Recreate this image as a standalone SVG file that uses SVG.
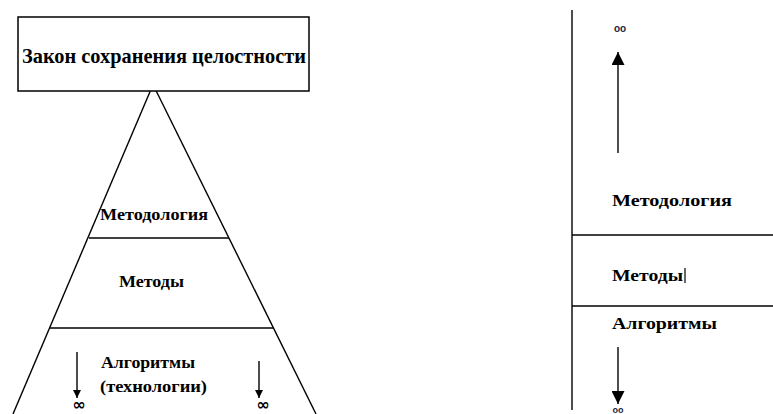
<svg xmlns="http://www.w3.org/2000/svg" width="773" height="414" viewBox="0 0 773 414">
<defs>
<style>
.ln{stroke:#000;stroke-width:1.4;fill:none}
.t{font-family:"Liberation Serif","Times New Roman",serif;font-weight:bold;fill:#000}
.inf{font-family:"Liberation Sans",Arial,sans-serif;font-weight:bold;fill:#1c2540}
.big{font-family:"DejaVu Sans",sans-serif;font-weight:bold;fill:#000}
</style>
<marker id="ah" viewBox="0 0 10 10" refX="10" refY="5" markerWidth="8" markerHeight="8" markerUnits="userSpaceOnUse" orient="auto">
<path d="M0,0 L10,5 L0,10 Z" fill="#000"/>
</marker>
<marker id="ahb" viewBox="0 0 10 10" refX="10" refY="5" markerWidth="13" markerHeight="13" markerUnits="userSpaceOnUse" orient="auto">
<path d="M0,0 L10,5 L0,10 Z" fill="#000"/>
</marker>
</defs>
<rect width="773" height="414" fill="#fff"/>

<g id="pyramid">
<polyline class="ln" points="150.3,91 153,85 156.2,91"/>
<line class="ln" x1="150.3" y1="91" x2="13" y2="414"/>
<line class="ln" x1="156.2" y1="91" x2="316" y2="414"/>
</g>

<g id="title">
<rect x="18" y="17" width="291" height="74" fill="#fff" stroke="#000" stroke-width="1.5"/>
<text class="t" x="22" y="63" font-size="22" textLength="284" lengthAdjust="spacingAndGlyphs">Закон сохранения целостности</text>
</g>

<g id="level-methodology">
<text class="t" x="100" y="220" font-size="17" textLength="108" lengthAdjust="spacingAndGlyphs">Методология</text>
</g>
<g id="level-methods">
<text class="t" x="119" y="287" font-size="17" textLength="65" lengthAdjust="spacingAndGlyphs">Методы</text>
</g>
<g id="level-algorithms">
<text class="t" x="101" y="368" font-size="17" textLength="94" lengthAdjust="spacingAndGlyphs">Алгоритмы</text>
<text class="t" x="100" y="392" font-size="17" textLength="107" lengthAdjust="spacingAndGlyphs">(технологии)</text>
<text class="big" x="79" y="410" font-size="16" text-anchor="middle">∞</text>
<text class="big" x="263" y="410" font-size="16" text-anchor="middle">∞</text>
</g>

<g id="right-scale">
<text class="t" x="612" y="206" font-size="16" textLength="120" lengthAdjust="spacingAndGlyphs">Методология</text>
<text class="t" x="612" y="281" font-size="16" textLength="71" lengthAdjust="spacingAndGlyphs">Методы</text>
<line x1="685" y1="268" x2="685" y2="283" stroke="#000" stroke-width="1.2"/>
<text class="t" x="612" y="329" font-size="16" textLength="105" lengthAdjust="spacingAndGlyphs">Алгоритмы</text>
<text class="inf" x="620" y="32" font-size="10" text-anchor="middle">oo</text>
<text class="inf" x="618" y="413" font-size="9" text-anchor="middle">oo</text>
</g>

<g id="connectors">
<line class="ln" x1="89" y1="238" x2="229" y2="238"/>
<line class="ln" x1="50" y1="328" x2="273" y2="328"/>
<line class="ln" x1="77" y1="352" x2="77" y2="398" marker-end="url(#ah)"/>
<line class="ln" x1="259" y1="361" x2="259" y2="398" marker-end="url(#ah)"/>
<line class="ln" x1="572" y1="10" x2="572" y2="410"/>
<line class="ln" x1="572" y1="235" x2="773" y2="235"/>
<line class="ln" x1="572" y1="306" x2="773" y2="306"/>
<line class="ln" x1="618" y1="153" x2="618" y2="52" marker-end="url(#ahb)"/>
<line class="ln" x1="618" y1="347" x2="618" y2="404" marker-end="url(#ahb)"/>
</g>
</svg>
